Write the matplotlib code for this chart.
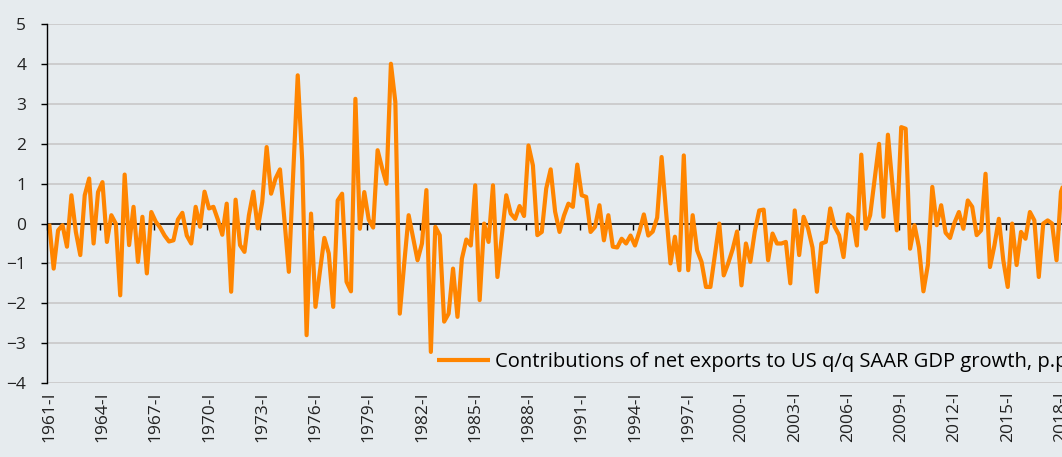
import numpy as np
import matplotlib
matplotlib.use("Agg")
import matplotlib.pyplot as plt

plt.rcParams['font.family'] = ['Open Sans', 'DejaVu Sans']

# contributions of net exports to US q/q SAAR GDP growth, p.p., quarterly from 1961-I
net_exports = [
    0.0, -1.13, -0.17, -0.04, -0.58, 0.71, -0.21, -0.79, 0.71, 1.13,
    -0.5, 0.79, 1.04, -0.46, 0.21, 0.0, -1.8, 1.23, -0.54, 0.42,
    -0.96, 0.17, -1.25, 0.29, 0.05, -0.1, -0.3, -0.45, -0.42, 0.1,
    0.27, -0.3, -0.5, 0.42, -0.08, 0.8, 0.38, 0.42, 0.1, -0.28,
    0.5, -1.71, 0.6, -0.54, -0.71, 0.21, 0.8, -0.12, 0.54, 1.92,
    0.75, 1.13, 1.36, 0.1, -1.21, 1.3, 3.72, 1.6, -2.8, 0.25,
    -2.09, -1.2, -0.36, -0.75, -2.09, 0.58, 0.75, -1.46, -1.7, 3.13,
    -0.13, 0.79, 0.1, -0.1, 1.84, 1.4, 1.0, 4.01, 3.05, -2.26,
    -1.0, 0.21, -0.35, -0.92, -0.5, 0.84, -3.22, -0.08, -0.29, -2.46,
    -2.26, -1.13, -2.34, -0.88, -0.4, -0.55, 0.96, -1.92, 0.0, -0.46,
    0.96, -1.34, -0.3, 0.71, 0.25, 0.12, 0.44, 0.19, 1.96, 1.46,
    -0.29, -0.21, 0.88, 1.36, 0.3, -0.21, 0.2, 0.5, 0.42, 1.48,
    0.71, 0.67, -0.21, -0.08, 0.46, -0.42, 0.21, -0.58, -0.6, -0.38,
    -0.5, -0.3, -0.55, -0.2, 0.23, -0.3, -0.2, 0.15, 1.67, 0.3,
    -1.0, -0.33, -1.17, 1.71, -1.17, 0.21, -0.67, -0.96, -1.59, -1.59,
    -0.79, 0.0, -1.3, -1.0, -0.65, -0.2, -1.55, -0.5, -0.96, -0.2,
    0.33, 0.35, -0.92, -0.25, -0.5, -0.5, -0.46, -1.5, 0.33, -0.79,
    0.17, -0.12, -0.6, -1.71, -0.5, -0.46, 0.38, -0.08, -0.29, -0.84,
    0.23, 0.14, -0.55, 1.73, -0.13, 0.21, 1.1, 2.0, 0.17, 2.23,
    1.0, -0.17, 2.42, 2.38, -0.63, -0.04, -0.6, -1.7, -1.04, 0.92,
    -0.04, 0.46, -0.23, -0.36, 0.02, 0.29, -0.13, 0.58, 0.42, -0.29,
    -0.17, 1.25, -1.09, -0.55, 0.12, -0.92, -1.59, 0.0, -1.04, -0.21,
    -0.38, 0.29, 0.08, -1.34, 0.0, 0.08, 0.0, -0.92, 0.8, 1.1,
]
start_year = 1961
roman = ['I', 'II', 'III', 'IV']
quarters = [f"{start_year + i // 4}-{roman[i % 4]}" for i in range(len(net_exports))]
tick_pos = list(range(0, len(net_exports), 12))
tick_labels = [quarters[i] for i in tick_pos]
series_name = "Contributions of net exports to US q/q SAAR GDP growth, p.p."

bg = '#e6ebee'
orange = '#ff8500'

fig = plt.figure(figsize=(10.62, 4.57), dpi=100, facecolor=bg)
ax = fig.add_axes([47 / 1062, 74 / 457, 1 - 47 / 1062, 358.7 / 457])
ax.set_facecolor(bg)

# categories sit between tick marks, like a category axis
x = np.arange(len(net_exports))
ax.axhline(0, color='black', lw=1.1, zorder=1.5)
ax.plot(x, net_exports, color=orange, lw=3, solid_joinstyle='round',
        solid_capstyle='butt', label=series_name, zorder=2)

ax.set_ylim(-4, 5)
ax.set_xlim(-0.5, 228.23)
ax.set_yticks(range(-4, 6))
ax.yaxis.grid(True, color='#c8c8c8', lw=1.2)
ax.set_axisbelow(True)
for s in ['top', 'right', 'bottom']:
    ax.spines[s].set_visible(False)
ax.spines['left'].set_color('black')
ax.spines['left'].set_linewidth(1)
ax.tick_params(axis='y', length=4, width=1, color='black', pad=11,
               labelsize=12.5, labelcolor='#222222')

ax.set_xticks(tick_pos, tick_labels, rotation=90)
ax.tick_params(axis='x', length=0, pad=6, labelsize=12.5, labelcolor='#222222')

# tick marks on the zero line, at category boundaries
zero = ax.secondary_xaxis(4 / 9)
zero.set_xticks([p - 0.5 for p in tick_pos])
zero.tick_params(length=4, width=1, color='black', labelbottom=False)
zero.spines['bottom'].set_visible(False)

ax.legend(loc='center left', bbox_to_anchor=(0.384, 0.0585), frameon=False,
          handlelength=2.62, handletextpad=0.25, borderpad=0, borderaxespad=0,
          fontsize=14.5)

fig.savefig('out.png', dpi=100, facecolor=bg)
